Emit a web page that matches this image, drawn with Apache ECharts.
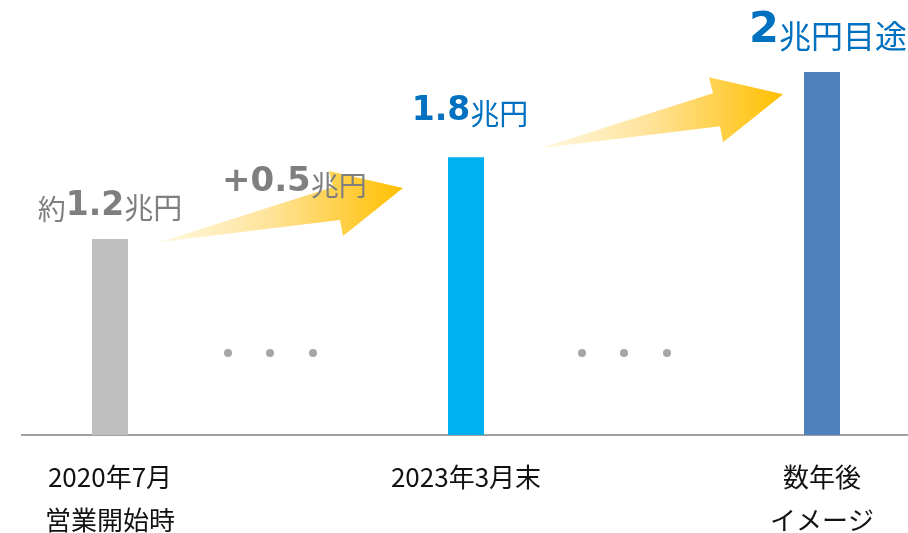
<!DOCTYPE html>
<html>
<head>
<meta charset="utf-8">
<script src="https://cdn.jsdelivr.net/npm/echarts@6/dist/echarts.min.js"></script>
<style>
  html, body { margin: 0; padding: 0; background: #fff; }
  #main { width: 908px; height: 533px; }
</style>
</head>
<body>
<div id="main"></div>
<script>
// 期間ラベル
const categories = ['2020年7月\n営業開始時', '2023年3月末', '数年後\nイメージ'];
// 表示金額（兆円）
const amounts = ['1.2', '1.8', '2'];
const prefixes = ['約', '', ''];
const suffixes = ['兆円', '兆円', '兆円目途'];
// 棒の高さ（図から読み取り、イメージ図なので金額と比例しない）
const barHeights = [1.08, 1.53, 2.0];
const growthLabel = '+0.5';

const barColors = ['#bfbfbf', '#00b0f0', '#4f81bd'];
const labelColors = ['#7f7f7f', '#0070c0', '#0070c0'];

const numFont = '"DejaVu Sans", Verdana, sans-serif';
const jpFont = '"Noto Sans CJK JP", sans-serif';

function richFor(color, numSize, jpSize) {
  return {
    p: { color: color, fill: color, fontFamily: jpFont, fontSize: 28, verticalAlign: 'bottom', lineHeight: 46 },
    n: { color: color, fill: color, fontFamily: numFont, fontWeight: 'bold', fontSize: numSize, verticalAlign: 'bottom', lineHeight: 46 },
    s: { color: color, fill: color, fontFamily: jpFont, fontSize: jpSize, verticalAlign: 'bottom', lineHeight: 46 }
  };
}

const labelStyle = [
  { distance: 16, offset: [0, 0], rich: richFor(labelColors[0], 33, 29) },
  { distance: 29, offset: [4, 0], rich: richFor(labelColors[1], 33, 29) },
  { distance: 20, offset: [6, 0], rich: richFor(labelColors[2], 43, 32) }
];

const myChart = echarts.init(document.getElementById('main'));

const option = {
  animation: false,
  grid: { left: -68, right: -92, top: 72, bottom: 98, outerBoundsMode: 'none', containLabel: false },
  xAxis: {
    type: 'category',
    data: categories,
    axisLine: { show: false },
    axisTick: { show: false },
    axisLabel: {
      color: '#111',
      fontFamily: jpFont,
      fontSize: 26,
      lineHeight: 43,
      margin: 21
    }
  },
  yAxis: {
    type: 'value',
    min: 0,
    max: 2,
    show: false
  },
  series: [{
    type: 'bar',
    barWidth: 36,
    data: barHeights.map(function (v, i) {
      return {
        value: v,
        itemStyle: { color: barColors[i] },
        label: {
          show: true,
          position: 'top',
          distance: labelStyle[i].distance,
          offset: labelStyle[i].offset,
          formatter: (prefixes[i] ? '{p|' + prefixes[i] + '}' : '') +
            '{n|' + amounts[i] + '}{s|' + suffixes[i] + '}',
          rich: labelStyle[i].rich
        }
      };
    })
  }]
};

myChart.setOption(option);

// 装飾（基準線・矢印・点線）を棒の位置から配置
const base = myChart.convertToPixel({ seriesIndex: 0 }, [0, 0]);
const tops = barHeights.map(function (v, i) {
  return myChart.convertToPixel({ seriesIndex: 0 }, [i, v]);
});

// 矢印の形（尾の先端からの相対位置）
const arrowShape = [[0, 0], [173, -55], [169, -71], [243, -54], [183, -6], [180, -22]];

function arrow(tx, ty) {
  return {
    type: 'polygon',
    z: 5,
    shape: { points: arrowShape.map(function (p) { return [tx + p[0], ty + p[1]]; }) },
    style: {
      fill: new echarts.graphic.LinearGradient(0, 0, 1, 0, [
        { offset: 0, color: '#fff8e0' },
        { offset: 0.45, color: '#ffe39a' },
        { offset: 1, color: '#ffbf00' }
      ])
    }
  };
}

function dots(cx) {
  return [118, 160, 203].map(function (dx) {
    return {
      type: 'circle',
      shape: { cx: cx + dx, cy: 353, r: 4 },
      style: { fill: '#a6a6a6' }
    };
  });
}

const graphics = [
  {
    type: 'line',
    shape: { x1: 21, y1: base[1], x2: 908, y2: base[1] },
    style: { stroke: '#a0a0a0', lineWidth: 2 }
  },
  arrow(tops[0][0] + 50, tops[0][1] + 3),
  arrow(tops[1][0] + 74, tops[1][1] - 9),
  {
    type: 'text',
    z: 10,
    x: 222,
    y: 199,
    style: {
      text: '{n|' + growthLabel + '}{s|兆円}',
      verticalAlign: 'bottom',
      rich: richFor('#7f7f7f', 34, 28)
    }
  }
].concat(dots(tops[0][0])).concat(dots(tops[1][0] - 2));

myChart.setOption({ graphic: graphics });
</script>
</body>
</html>
